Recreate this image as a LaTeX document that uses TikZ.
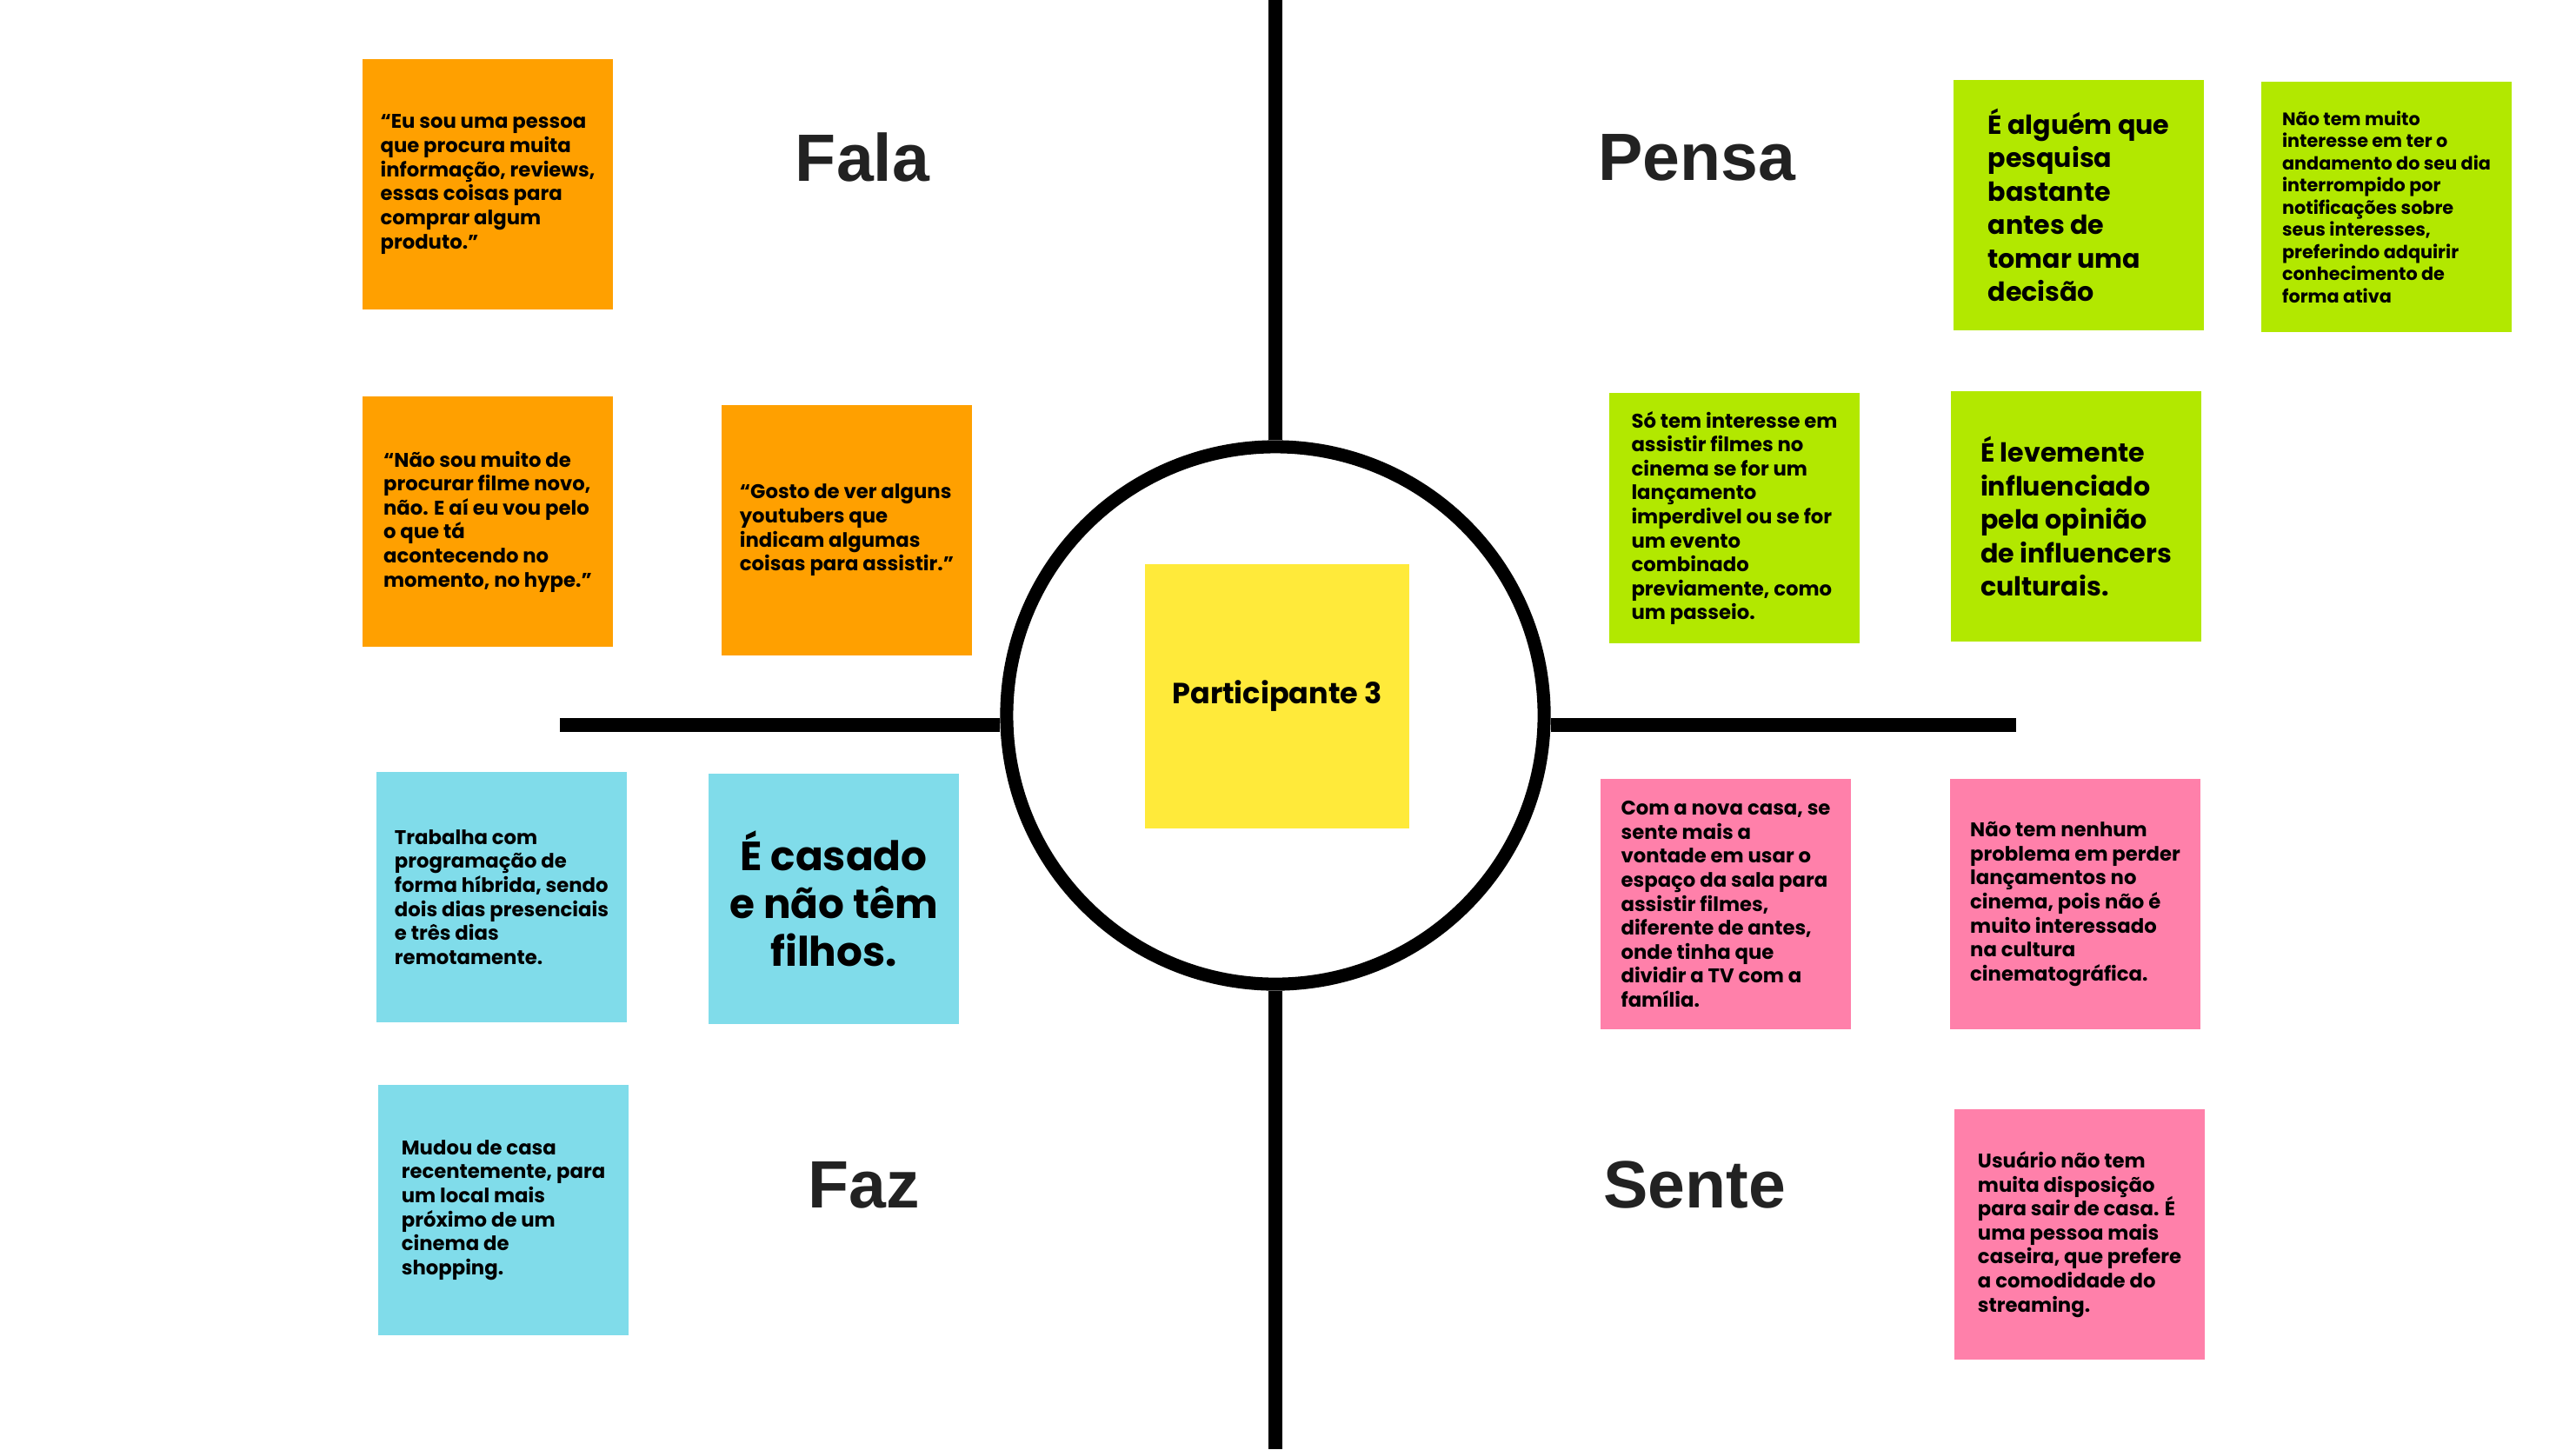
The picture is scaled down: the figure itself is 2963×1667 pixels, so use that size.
\documentclass[tikz,border=0pt]{standalone}
\usepackage{fontspec}
\newfontfamily\notefont{Poppins}
\newfontfamily\headfont{Liberation Sans}
\definecolor{notaorange}{HTML}{FFA000}
\definecolor{notagreen}{HTML}{B2E800}
\definecolor{notablue}{HTML}{80DCEA}
\definecolor{notapink}{HTML}{FF80AA}
\definecolor{notayellow}{HTML}{FFEA3A}
\definecolor{headgray}{HTML}{222222}
\newcommand{\txtsm}{\notefont\bfseries\fontsize{6.8}{8.25}\selectfont\lineskiplimit=-5pt}
\newcommand{\txtxs}{\notefont\bfseries\fontsize{6.2}{7.6}\selectfont\lineskiplimit=-5pt}
\newcommand{\txtbig}{\notefont\bfseries\fontsize{9}{11.5}\selectfont\lineskiplimit=-5pt}
\newcommand{\txthuge}{\notefont\bfseries\fontsize{14}{16.4}\selectfont\lineskiplimit=-5pt}
\tikzset{
	note/.style={fill=#1, minimum width=3.02cm, minimum height=3.02cm, inner sep=0pt, align=left, text=black, font=\txtsm},
	heading/.style={font=\headfont\bfseries\fontsize{23}{27}\selectfont, text=headgray},
	divider/.style={line width=4.6pt, black},
}
\begin{document}
\begin{tikzpicture}[x=0.0105cm,y=-0.0105cm]
	\fill[white] (0,0) rectangle (2963,1667);
	\useasboundingbox (0,0) rectangle (2963,1667);
	% quadrantes
	\node[draw, circle, line width=4.5pt, minimum size=6.49cm, inner sep=0pt] (ring) at (1467,823) {};
	\coordinate (top) at (1467,0);
	\coordinate (bottom) at (1467,1667);
	\coordinate (left) at (644,834);
	\coordinate (right) at (2319,834);
	\draw[divider] (top) -- (ring.north);
	\draw[divider] (ring.south) -- (bottom);
	\draw[divider] (left) -- (left -| ring.west);
	\draw[divider] (ring.east |- right) -- (right);
	\node[note=notayellow, minimum width=3.19cm, minimum height=3.19cm, font=\notefont\bfseries\fontsize{10}{12}\selectfont] (part) at (1469,801) {Participante 3};
	% titulos
	\node[heading] (fala) at (992,181) {Fala};
	\node[heading] (pensa) at (1952,181) {Pensa};
	\node[heading] (faz) at (994,1363) {Faz};
	\node[heading] (sente) at (1949,1363) {Sente};
	% fala
	\node[note=notaorange] (o1) at (561,212) {“Eu sou uma pessoa\\que procura muita\\informação, reviews,\\essas coisas para\\comprar algum\\produto.”};
	\node[note=notaorange] (o2) at (561,600) {“Não sou muito de\\procurar filme novo,\\não. E aí eu vou pelo\\o que tá\\acontecendo no\\momento, no hype.”};
	\node[note=notaorange] (o3) at (974,610) {“Gosto de ver alguns\\youtubers que\\indicam algumas\\coisas para assistir.”};
	% pensa
	\node[note=notagreen, font=\txtbig] (g1) at (2391,236) {É alguém que\\pesquisa\\bastante\\antes de\\tomar uma\\decisão};
	\node[note=notagreen, font=\txtxs] (g2) at (2745,238) {Não tem muito\\interesse em ter o\\andamento do seu dia\\interrompido por\\notificações sobre\\seus interesses,\\preferindo adquirir\\conhecimento de\\forma ativa};
	\node[note=notagreen] (g3) at (1995,596) {Só tem interesse em\\assistir filmes no\\cinema se for um\\lançamento\\imperdivel ou se for\\um evento\\combinado\\previamente, como\\um passeio.};
	\node[note=notagreen, font=\txtbig] (g4) at (2388,594) {É levemente\\influenciado\\pela opinião\\de influencers\\culturais.};
	% faz
	\node[note=notablue] (b1) at (577,1032) {Trabalha com\\programação de\\forma híbrida, sendo\\dois dias presenciais\\e três dias\\remotamente.};
	\node[note=notablue, align=center, font=\txthuge] (b2) at (959,1034) {É casado\\e não têm\\filhos.};
	\node[note=notablue] (b3) at (579,1392) {Mudou de casa\\recentemente, para\\um local mais\\próximo de um\\cinema de\\shopping.};
	% sente
	\node[note=notapink] (p1) at (1985,1040) {Com a nova casa, se\\sente mais a\\vontade em usar o\\espaço da sala para\\assistir filmes,\\diferente de antes,\\onde tinha que\\dividir a TV com a\\família.};
	\node[note=notapink] (p2) at (2387,1040) {Não tem nenhum\\problema em perder\\lançamentos no\\cinema, pois não é\\muito interessado\\na cultura\\cinematográfica.};
	\node[note=notapink] (p3) at (2392,1420) {Usuário não tem\\muita disposição\\para sair de casa. É\\uma pessoa mais\\caseira, que prefere\\a comodidade do\\streaming.};
\end{tikzpicture}
\end{document}
